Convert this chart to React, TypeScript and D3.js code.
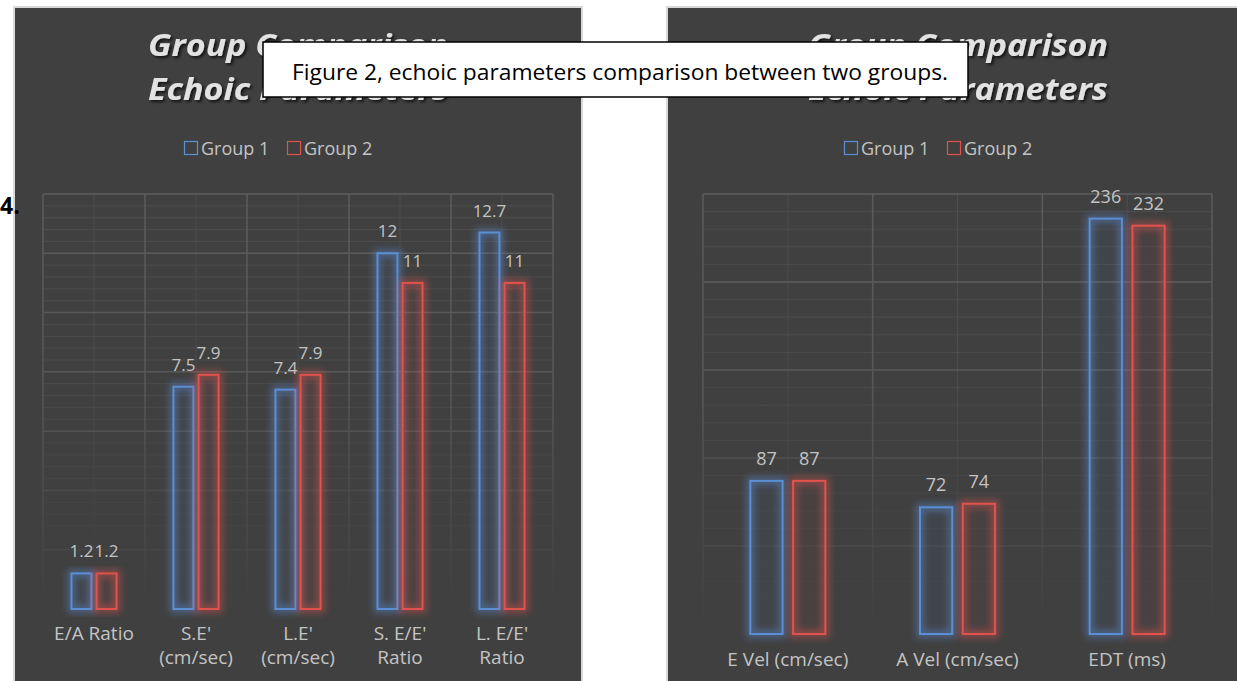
import React from "react";
import * as d3 from "d3";

// ---------- data ----------
const leftCategories: string[][] = [
  ["E/A Ratio"],
  ["S.E'", "(cm/sec)"],
  ["L.E'", "(cm/sec)"],
  ["S. E/E'", "Ratio"],
  ["L. E/E'", "Ratio"],
];
const leftGroup1 = [1.2, 7.5, 7.4, 12, 12.7];
const leftGroup2 = [1.2, 7.9, 7.9, 11, 11];
const leftLabels1 = ["1.2", "7.5", "7.4", "12", "12.7"];
const leftLabels2 = ["1.2", "7.9", "7.9", "11", "11"];

const rightCategories: string[][] = [["E Vel (cm/sec)"], ["A Vel (cm/sec)"], ["EDT (ms)"]];
const rightGroup1 = [87, 72, 236];
const rightGroup2 = [87, 74, 232];
const rightLabels1 = ["87", "72", "236"];
const rightLabels2 = ["87", "74", "232"];

const seriesNames = ["Group 1", "Group 2"];
const titleLines = ["Group Comparison", "Echoic Parameters"];
const caption = "Figure 2, echoic parameters comparison between two groups.";

const BLUE = "#5a8fd6";
const RED = "#e0524d";
const BG = "#404040";
const TXT = "#c4c4c4";
const FONT = "'Open Sans', 'Noto Sans', sans-serif";

type PanelProps = {
  id: string;
  px: number;
  pw: number;
  plotX0: number;
  plotX1: number;
  plotY0: number;
  plotY1: number;
  yMax: number;
  major: number;
  minor: number;
  categories: string[][];
  g1: number[];
  g2: number[];
  l1: string[];
  l2: string[];
  barFrac: number;
  gapFrac: number;
  labelSize: number;
  xLabelY: number;
};

function Panel(p: PanelProps) {
  const cx = p.px + p.pw / 2;
  const x = d3
    .scaleBand<number>()
    .domain(p.categories.map((_, i) => i))
    .range([p.plotX0, p.plotX1])
    .paddingInner(0)
    .paddingOuter(0);
  const y = d3.scaleLinear().domain([0, p.yMax]).range([p.plotY1, p.plotY0]);
  const bw = x.bandwidth();
  const barW = bw * p.barFrac;
  const gap = bw * p.gapFrac;
  const minorTicks = d3.range(0, p.yMax + 1e-9, p.minor);
  const majorTicks = d3.range(0, p.yMax + 1e-9, p.major);
  const legendTw = 64;
  const lx0 = cx - 114;
  const legendY = 148;

  const bars = [p.g1, p.g2];
  const labels = [p.l1, p.l2];
  const colors = [BLUE, RED];

  return (
    <g>
      <rect x={p.px} y={7} width={p.pw} height={720} fill={BG} stroke="#d9d9d9" strokeWidth={2} />
      {/* title */}
      {titleLines.map((t, i) => (
        <text
          key={i}
          x={cx - 150}
          y={56 + i * 44}
          fontFamily={FONT}
          fontWeight={700}
          fontStyle="italic"
          fontSize={30}
          fill="#e2e2e2"
          textLength={300}
          lengthAdjust="spacingAndGlyphs"
          filter="url(#titleShadow)"
        >
          {t}
        </text>
      ))}
      {/* legend */}
      {seriesNames.map((s, i) => {
        const ox = lx0 + i * (13 + 4 + legendTw + 22);
        return (
          <g key={s}>
            <rect x={ox + 0.5} y={legendY - 6.5} width={13} height={13} fill="none" stroke={colors[i]} strokeWidth={1.2} />
            <text x={ox + 17} y={legendY + 6.5} fontFamily={FONT} fontSize={18} fill={TXT}>
              {s}
            </text>
          </g>
        );
      })}
      {/* gridlines with fade */}
      <g mask={`url(#fade-${p.id})`}>
        {minorTicks.map((t, i) => (
          <line key={"mn" + i} x1={p.plotX0} x2={p.plotX1} y1={y(t)} y2={y(t)} stroke="#4d4d4d" strokeWidth={1} />
        ))}
        {p.categories.map((_, i) => (
          <line
            key={"vm" + i}
            x1={(x(i) as number) + bw / 2}
            x2={(x(i) as number) + bw / 2}
            y1={p.plotY0}
            y2={p.plotY1}
            stroke="#4d4d4d"
            strokeWidth={1}
          />
        ))}
        {majorTicks.map((t, i) => (
          <line key={"mj" + i} x1={p.plotX0} x2={p.plotX1} y1={y(t)} y2={y(t)} stroke="#5c5c5c" strokeWidth={1.5} />
        ))}
        {p.categories.map((_, i) => (
          <line key={"vj" + i} x1={x(i) as number} x2={x(i) as number} y1={p.plotY0} y2={p.plotY1} stroke="#5c5c5c" strokeWidth={1.5} />
        ))}
        <line x1={p.plotX1} x2={p.plotX1} y1={p.plotY0} y2={p.plotY1} stroke="#5c5c5c" strokeWidth={1.5} />
      </g>
      {/* bars */}
      {bars.map((vals, s) =>
        vals.map((v, i) => {
          const c = (x(i) as number) + bw / 2;
          const bx = s === 0 ? c - gap / 2 - barW : c + gap / 2;
          const top = y(v);
          const h = y(0) - top;
          return (
            <g key={s + "-" + i}>
              <rect
                x={bx}
                y={top}
                width={barW}
                height={h}
                fill="none"
                stroke={colors[s]}
                strokeWidth={8}
                strokeOpacity={0.45}
                filter="url(#glow)"
              />
              <rect x={bx} y={top} width={barW} height={h} fill={colors[s]} fillOpacity={0.06} stroke={colors[s]} strokeWidth={2} />
              <text
                x={bx + barW / 2}
                y={top - 16}
                textAnchor="middle"
                fontFamily={FONT}
                fontSize={p.labelSize}
                fill={TXT}
              >
                {labels[s][i]}
              </text>
            </g>
          );
        })
      )}
      {/* x labels */}
      {p.categories.map((lines, i) => (
        <text key={"xl" + i} x={(x(i) as number) + bw / 2} y={p.xLabelY} textAnchor="middle" fontFamily={FONT} fontSize={19} fill={TXT}>
          {lines.map((ln, k) => (
            <tspan key={k} x={(x(i) as number) + bw / 2} dy={k === 0 ? 0 : 24}>
              {ln}
            </tspan>
          ))}
        </text>
      ))}
    </g>
  );
}

export default function App() {
  const W = 1237;
  const H = 681;
  return (
    <div style={{ position: "fixed", left: 0, top: 0, width: W, height: H, background: "#fff" }}>
      <svg width={W} height={H} viewBox={`0 0 ${W} ${H}`} style={{ display: "block" }}>
        <defs>
          <filter id="glow" x="-60%" y="-20%" width="220%" height="140%">
            <feGaussianBlur stdDeviation={3.5} />
          </filter>
          <filter id="titleShadow" x="-10%" y="-30%" width="120%" height="160%">
            <feDropShadow dx={2} dy={2} stdDeviation={1.5} floodColor="#000" floodOpacity={0.7} />
          </filter>
          {[
            { id: "L", y0: 194, y1: 609 },
            { id: "R", y0: 194, y1: 634 },
          ].map((m) => (
            <React.Fragment key={m.id}>
              <linearGradient id={`grad-${m.id}`} gradientUnits="userSpaceOnUse" x1={0} x2={0} y1={m.y0} y2={m.y1}>
                <stop offset="0" stopColor="#fff" stopOpacity={1} />
                <stop offset="0.45" stopColor="#fff" stopOpacity={0.85} />
                <stop offset="1" stopColor="#fff" stopOpacity={0.0} />
              </linearGradient>
              <mask id={`fade-${m.id}`} maskUnits="userSpaceOnUse" x={0} y={0} width={W} height={H}>
                <rect x={0} y={0} width={W} height={H} fill={`url(#grad-${m.id})`} />
              </mask>
            </React.Fragment>
          ))}
        </defs>
        <Panel
          id="L"
          px={14}
          pw={568}
          plotX0={43}
          plotX1={553}
          plotY0={194}
          plotY1={609}
          yMax={14}
          major={2}
          minor={0.4}
          categories={leftCategories}
          g1={leftGroup1}
          g2={leftGroup2}
          l1={leftLabels1}
          l2={leftLabels2}
          barFrac={0.196}
          gapFrac={0.05}
          labelSize={17}
          xLabelY={640}
        />
        <Panel
          id="R"
          px={667}
          pw={582}
          plotX0={703}
          plotX1={1212}
          plotY0={194}
          plotY1={634}
          yMax={250}
          major={50}
          minor={10}
          categories={rightCategories}
          g1={rightGroup1}
          g2={rightGroup2}
          l1={rightLabels1}
          l2={rightLabels2}
          barFrac={0.19}
          gapFrac={0.062}
          labelSize={18}
          xLabelY={666}
        />
        {/* caption box */}
        <rect x={263} y={42} width={705} height={55} fill="#fff" stroke="#000" strokeWidth={1.5} />
        <text x={292} y={80} fontFamily={FONT} fontSize={21} fill="#000" textLength={656} lengthAdjust="spacingAndGlyphs">
          {caption}
        </text>
        <text x={0} y={214} fontFamily={FONT} fontWeight={700} fontSize={23} fill="#000">
          4.
        </text>
      </svg>
    </div>
  );
}
